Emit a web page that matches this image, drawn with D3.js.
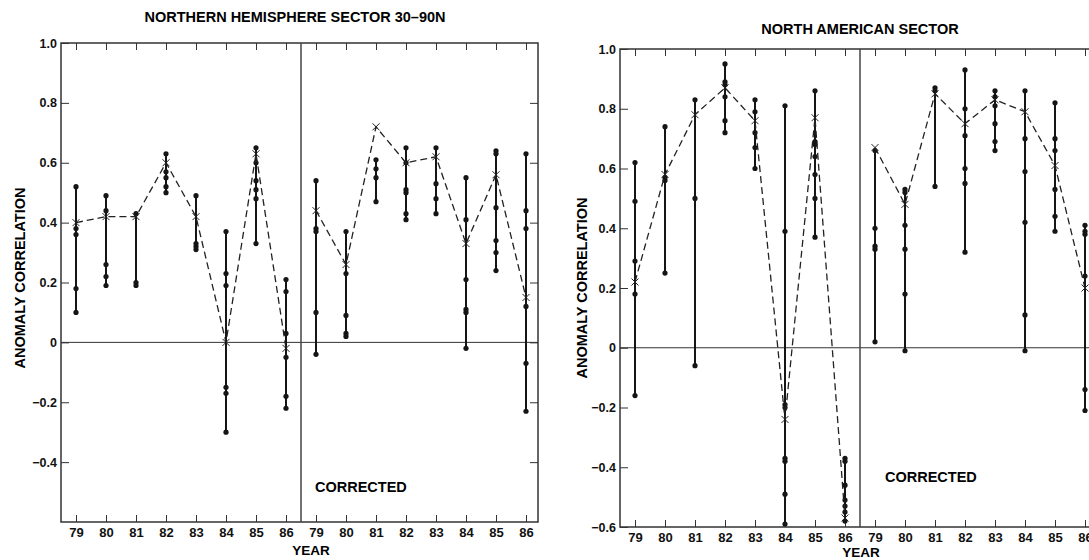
<!DOCTYPE html>
<html>
<head>
<meta charset="utf-8">
<script src="https://cdn.jsdelivr.net/npm/d3@7"></script>
<style>
  body { margin: 0; background: #fff; }
  svg { display: block; font-family: "Liberation Sans", Arial, sans-serif; font-weight: bold; }
  .axis path, .axis line { stroke: #333; }
  .axis text { fill: #111; font-weight: bold; }
</style>
</head>
<body>
<svg id="chart" width="1089" height="560"></svg>
<script>
// year labels, repeated for the raw and the corrected half
const years = ['79', '80', '81', '82', '83', '84', '85', '86']
const yTicks = [-0.6, -0.4, -0.2, 0, 0.2, 0.4, 0.6, 0.8, 1.0]

// Northern Hemisphere 30-90N : individual forecasts (dots) and mean (x)
const nhDots = [
  [0.52, 0.38, 0.36, 0.18, 0.10],
  [0.49, 0.44, 0.26, 0.22, 0.19],
  [0.43, 0.20, 0.19],
  [0.63, 0.57, 0.55, 0.52, 0.50],
  [0.49, 0.33, 0.32, 0.31],
  [0.37, 0.23, 0.19, -0.15, -0.17, -0.30],
  [0.65, 0.60, 0.54, 0.51, 0.48, 0.33],
  [0.21, 0.17, 0.03, -0.05, -0.18, -0.22],
  // corrected
  [0.54, 0.38, 0.37, 0.10, -0.04],
  [0.37, 0.23, 0.09, 0.03, 0.02],
  [0.61, 0.58, 0.55, 0.47],
  [0.65, 0.60, 0.51, 0.50, 0.43, 0.41],
  [0.65, 0.53, 0.48, 0.43],
  [0.55, 0.41, 0.21, 0.11, 0.10, -0.02],
  [0.64, 0.63, 0.45, 0.34, 0.30, 0.24],
  [0.63, 0.44, 0.38, 0.12, -0.07, -0.23]
]
const nhMean = [0.40, 0.42, 0.42, 0.60, 0.42, 0.00, 0.63, -0.02,
                0.44, 0.26, 0.72, 0.60, 0.62, 0.33, 0.56, 0.15]

// North American sector
const naDots = [
  [0.62, 0.49, 0.29, 0.18, -0.16],
  [0.74, 0.57, 0.56, 0.25],
  [0.83, 0.50, -0.06],
  [0.95, 0.89, 0.88, 0.84, 0.76, 0.72],
  [0.83, 0.79, 0.72, 0.67, 0.60],
  [0.81, 0.39, -0.19, -0.20, -0.37, -0.38, -0.49, -0.59],
  [0.86, 0.69, 0.68, 0.64, 0.58, 0.50, 0.37],
  [-0.37, -0.38, -0.46, -0.51, -0.53, -0.55, -0.58],
  // corrected
  [0.66, 0.40, 0.34, 0.33, 0.02],
  [0.53, 0.52, 0.41, 0.33, 0.18, -0.01],
  [0.87, 0.86, 0.54],
  [0.93, 0.80, 0.71, 0.60, 0.55, 0.32],
  [0.86, 0.84, 0.81, 0.75, 0.69, 0.66],
  [0.86, 0.70, 0.59, 0.42, 0.11, -0.01],
  [0.82, 0.70, 0.66, 0.53, 0.44, 0.39],
  [0.41, 0.39, 0.38, 0.24, -0.14, -0.21]
]
const naMean = [0.22, 0.58, 0.78, 0.87, 0.76, -0.24, 0.77, -0.57,
                0.67, 0.48, 0.85, 0.75, 0.83, 0.79, 0.61, 0.20]

const svg = d3.select('#chart')
const ink = '#151515'

function drawPanel(p, dots, means) {
  const x = d3.scaleLinear().domain([-0.5, 15.4]).range([p.left, p.right])
  const y = d3.scaleLinear().domain([-0.6, 1.0]).range([p.bottom, p.top])
  const g = svg.append('g')
  const fmt = d => d === 0 ? '0' : d3.format('.1f')(d)

  // frame
  g.append('rect')
    .attr('x', p.left).attr('y', p.top)
    .attr('width', p.right - p.left).attr('height', p.bottom - p.top)
    .attr('fill', 'none').attr('stroke', '#333').attr('stroke-width', 1.5)

  // zero line and divider between raw and corrected
  g.append('line')
    .attr('x1', p.left).attr('x2', p.right)
    .attr('y1', y(0)).attr('y2', y(0))
    .attr('stroke', '#333').attr('stroke-width', 1)
  g.append('line')
    .attr('x1', x(7.5)).attr('x2', x(7.5))
    .attr('y1', p.top).attr('y2', p.bottom)
    .attr('stroke', '#444').attr('stroke-width', 1.5)

  // axes with inward ticks
  g.append('g').attr('class', 'axis')
    .attr('transform', 'translate(' + p.left + ',0)')
    .call(d3.axisLeft(y).tickValues(yTicks.filter(t => t >= p.minLabel))
      .tickSize(-8).tickSizeOuter(0).tickPadding(4).tickFormat(fmt))
    .call(a => a.select('.domain').remove())
    .selectAll('text').style('font-size', '12.5px')

  g.append('g').attr('class', 'axis')
    .attr('transform', 'translate(' + p.right + ',0)')
    .call(d3.axisRight(y).tickValues([-0.4, -0.2, 0, 0.2, 0.4, 0.6, 0.8])
      .tickSize(-8).tickSizeOuter(0).tickFormat(''))
    .call(a => a.select('.domain').remove())

  g.append('g').attr('class', 'axis')
    .attr('transform', 'translate(0,' + p.bottom + ')')
    .call(d3.axisBottom(x).tickValues(d3.range(16))
      .tickSize(-7).tickSizeOuter(0).tickPadding(6)
      .tickFormat(i => years[i % 8]))
    .call(a => a.select('.domain').remove())
    .selectAll('text').style('font-size', '13px')

  g.append('g').attr('class', 'axis')
    .attr('transform', 'translate(0,' + p.top + ')')
    .call(d3.axisTop(x).tickValues(d3.range(16))
      .tickSize(-7).tickSizeOuter(0).tickFormat(''))
    .call(a => a.select('.domain').remove())

  // vertical spread of the individual forecasts
  g.selectAll('.spread')
    .data(dots)
    .enter()
    .append('line')
    .attr('x1', (d, i) => x(i)).attr('x2', (d, i) => x(i))
    .attr('y1', d => y(d3.max(d))).attr('y2', d => y(d3.min(d)))
    .attr('stroke', ink).attr('stroke-width', 2)

  const pts = []
  dots.forEach((d, i) => d.forEach(v => pts.push([i, v])))
  g.selectAll('.dot')
    .data(pts)
    .enter()
    .append('circle')
    .attr('cx', d => x(d[0])).attr('cy', d => y(d[1]))
    .attr('r', 2.6).attr('fill', ink)

  // dashed line through the means, one for each half
  const line = d3.line().x(d => x(d[0])).y(d => y(d[1]))
  const m = means.map((v, i) => [i, v])
  ;[m.slice(0, 8), m.slice(8)].forEach(seg => {
    g.append('path')
      .attr('d', line(seg))
      .attr('fill', 'none').attr('stroke', '#222')
      .attr('stroke-width', 1.3).attr('stroke-dasharray', '7,4')
  })

  // x markers for the mean
  const s = 3.5
  g.selectAll('.mean')
    .data(m)
    .enter()
    .append('path')
    .attr('d', d => {
      const cx = x(d[0]), cy = y(d[1])
      return 'M' + (cx - s) + ',' + (cy - s) + 'L' + (cx + s) + ',' + (cy + s) +
        'M' + (cx - s) + ',' + (cy + s) + 'L' + (cx + s) + ',' + (cy - s)
    })
    .attr('stroke', '#222').attr('stroke-width', 1).attr('fill', 'none')

  // texts
  g.append('text')
    .attr('x', p.titleX).attr('y', p.titleY)
    .attr('text-anchor', 'middle').style('font-size', '14.5px')
    .text(p.title)

  g.append('text')
    .attr('transform', 'translate(' + p.ylabX + ',' + p.ylabY + ') rotate(-90)')
    .attr('text-anchor', 'middle').style('font-size', '14.5px')
    .text('ANOMALY CORRELATION')

  g.append('text')
    .attr('x', p.yearX).attr('y', p.yearY)
    .attr('text-anchor', 'middle').style('font-size', '13.5px')
    .text('YEAR')

  g.append('text')
    .attr('x', p.corrX).attr('y', p.corrY)
    .style('font-size', '14.5px')
    .text('CORRECTED')
}

drawPanel({
  left: 61, right: 538, top: 43, bottom: 522, minLabel: -0.5,
  title: 'NORTHERN HEMISPHERE SECTOR 30\u201390N', titleX: 295, titleY: 22,
  ylabX: 25, ylabY: 278, yearX: 311, yearY: 555, corrX: 315, corrY: 492
}, nhDots, nhMean)

drawPanel({
  left: 620, right: 1097, top: 49, bottom: 527, minLabel: -0.7,
  title: 'NORTH AMERICAN SECTOR', titleX: 860, titleY: 34,
  ylabX: 587, ylabY: 288, yearX: 861, yearY: 557, corrX: 885, corrY: 482
}, naDots, naMean)
</script>
</body>
</html>
